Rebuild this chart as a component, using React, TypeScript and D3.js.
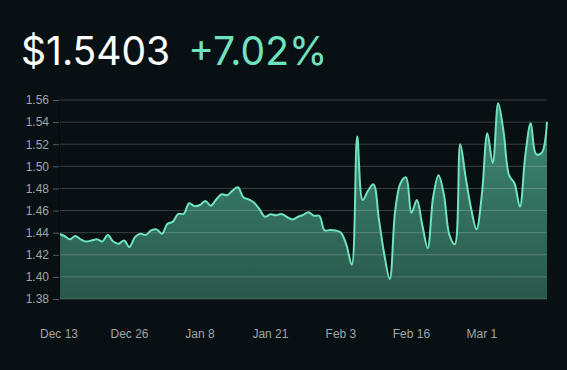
import { useEffect, useRef } from 'react'
import * as d3 from 'd3'

const startDate = new Date(2022, 11, 13)
const prices = [
  1.439, 1.437, 1.434, 1.437, 1.434, 1.432, 1.433, 1.434, 1.432, 1.438,
  1.432, 1.430, 1.433, 1.427, 1.436, 1.439, 1.438, 1.442, 1.443, 1.439,
  1.448, 1.450, 1.457, 1.457, 1.4666, 1.464, 1.465, 1.4686, 1.4644, 1.470,
  1.4747, 1.4738, 1.478, 1.481, 1.472, 1.470, 1.467, 1.461, 1.4544, 1.4566,
  1.4557, 1.4569, 1.4544, 1.452, 1.4542, 1.456, 1.4584, 1.4553, 1.4553, 1.442,
  1.4424, 1.442, 1.440, 1.429, 1.411, 1.527, 1.4695, 1.478, 1.4837, 1.452,
  1.42, 1.398, 1.46, 1.485, 1.490, 1.458, 1.4695, 1.447, 1.426, 1.472,
  1.492, 1.474, 1.438, 1.4295, 1.520, 1.49, 1.462, 1.443, 1.475, 1.530,
  1.503, 1.557, 1.531, 1.492, 1.4847, 1.4635, 1.51, 1.539, 1.511, 1.512,
  1.5403,
]
const yTicks = [1.38, 1.40, 1.42, 1.44, 1.46, 1.48, 1.50, 1.52, 1.54, 1.56]
const xTickLabels = ['Dec 13', 'Dec 26', 'Jan 8', 'Jan 21', 'Feb 3', 'Feb 16', 'Mar 1']
const lastPrice = '$1.5403'
const change = '+7.02%'

const width = 567
const height = 370

const App = () => {
  const svgRef = useRef<SVGSVGElement>(null)

  useEffect(() => {
    const data = prices.map((v, i) => ({ date: d3.timeDay.offset(startDate, i), value: v }))
    const left = 59, right = 547, top = 100, bottom = 299

    const svg = d3.select(svgRef.current)
    svg.selectAll('*').remove()

    svg.append('rect').attr('width', width).attr('height', height).attr('fill', '#081013')

    const x = d3.scaleTime()
      .domain([startDate, data[data.length - 1].date])
      .range([left, right])
    const y = d3.scaleLinear().domain([1.38, 1.56]).range([bottom, top])

    const defs = svg.append('defs')
    const grad = defs.append('linearGradient')
      .attr('id', 'fillGrad')
      .attr('gradientUnits', 'userSpaceOnUse')
      .attr('x1', 0).attr('x2', 0).attr('y1', top).attr('y2', bottom)
    grad.append('stop').attr('offset', '0%').attr('stop-color', '#3f8e76')
    grad.append('stop').attr('offset', '100%').attr('stop-color', '#29574a')

    const area = d3.area<{ date: Date; value: number }>()
      .x(d => x(d.date))
      .y0(bottom)
      .y1(d => y(d.value))
      .curve(d3.curveCatmullRom)
    const line = d3.line<{ date: Date; value: number }>()
      .x(d => x(d.date))
      .y(d => y(d.value))
      .curve(d3.curveCatmullRom)

    svg.append('path').datum(data).attr('d', area).attr('fill', 'url(#fillGrad)')

    // grid lines sit over the fill
    svg.append('g')
      .selectAll('line')
      .data(yTicks)
      .join('line')
      .attr('x1', left).attr('x2', right)
      .attr('y1', d => y(d)).attr('y2', d => y(d))
      .attr('stroke', 'rgba(255,255,255,0.2)')
      .attr('stroke-width', 1)

    svg.append('path').datum(data).attr('d', line)
      .attr('fill', 'none')
      .attr('stroke', '#6fe2c0')
      .attr('stroke-width', 2)

    const yAxis = svg.append('g')
      .attr('transform', `translate(${left},0)`)
      .call(d3.axisLeft(y).tickValues(yTicks).tickFormat(d3.format('.2f')).tickSize(6).tickPadding(4))
    yAxis.select('.domain').attr('stroke', '#04090b')
    yAxis.selectAll('.tick line').attr('stroke', '#555b5e')
    yAxis.selectAll('text')
      .attr('fill', '#a0a4a6')
      .style('font-family', 'Liberation Sans, Arial, sans-serif')
      .style('font-size', '12px')

    const xTicks = xTickLabels.map((_, i) => d3.timeDay.offset(startDate, i * 13))
    svg.append('g')
      .selectAll('text')
      .data(xTicks)
      .join('text')
      .attr('x', d => x(d))
      .attr('y', 338)
      .attr('text-anchor', 'middle')
      .attr('fill', '#a0a4a6')
      .style('font-family', 'Liberation Sans, Arial, sans-serif')
      .style('font-size', '12px')
      .text((_, i) => xTickLabels[i])

    const title = svg.append('text')
      .attr('x', 21)
      .attr('y', 65)
      .style('font-family', 'Inter, sans-serif')
      .style('font-size', '39px')
      .style('font-weight', 400)
    title.append('tspan').attr('fill', '#ffffff').text(lastPrice)
    title.append('tspan').attr('fill', '#6fe2c0').attr('dx', 18).text(change)
  }, [])

  return (
    <svg
      ref={svgRef}
      width={width}
      height={height}
      style={{ position: 'absolute', left: 0, top: 0, display: 'block' }}
    />
  )
}

export default App
